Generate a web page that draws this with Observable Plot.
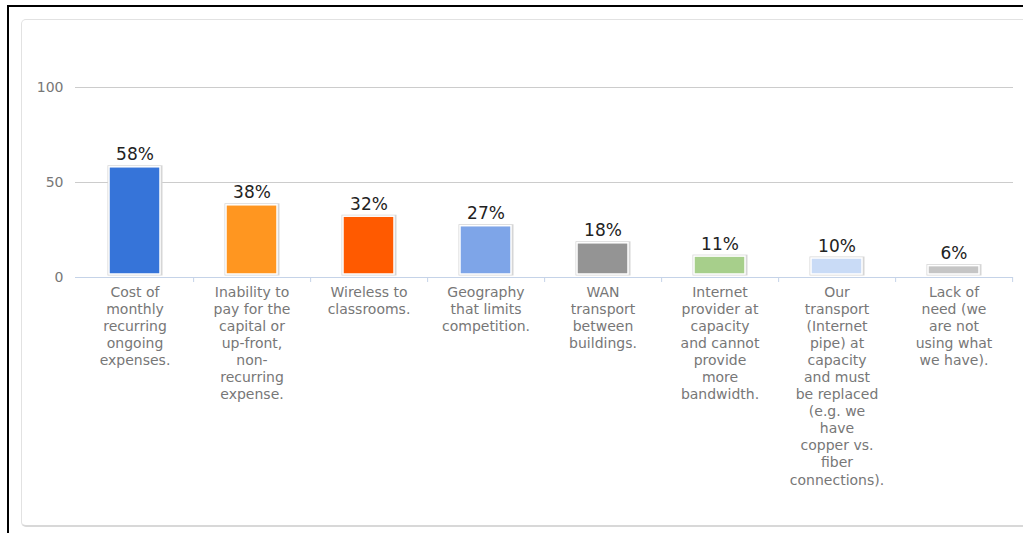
<!DOCTYPE html>
<html>
<head>
<meta charset="utf-8">
<script src="https://cdn.jsdelivr.net/npm/d3@7"></script>
<script src="https://cdn.jsdelivr.net/npm/@observablehq/plot@0.6"></script>
<style>
  html, body { margin: 0; padding: 0; background: #fff; }
  #wrap { position: relative; width: 1023px; height: 533px; overflow: hidden; font-family: "DejaVu Sans", sans-serif; }
  #outer { position: absolute; left: 7px; top: 5px; right: -10px; bottom: -10px; border-top: 2px solid #000; border-left: 2px solid #000; }
  #panel { position: absolute; left: 21px; top: 19px; right: -20px; height: 505px; border: 1px solid #e2e2e2; border-bottom: 2px solid #d8d8d8; border-radius: 5px; }
  #chart { position: absolute; left: 0; top: 0; }
</style>
</head>
<body>
<div id="wrap">
  <div id="outer"></div>
  <div id="panel"></div>
  <div id="chart"></div>
</div>
<script>
const categories = [
  "Cost of monthly recurring ongoing expenses.",
  "Inability to pay for the capital or up-front, non-recurring expense.",
  "Wireless to classrooms.",
  "Geography that limits competition.",
  "WAN transport between buildings.",
  "Internet provider at capacity and cannot provide more bandwidth.",
  "Our transport (Internet pipe) at capacity and must be replaced (e.g. we have copper vs. fiber connections).",
  "Lack of need (we are not using what we have)."
];
const tickLabels = [
  "Cost of\nmonthly\nrecurring\nongoing\nexpenses.",
  "Inability to\npay for the\ncapital or\nup-front,\nnon-\nrecurring\nexpense.",
  "Wireless to\nclassrooms.",
  "Geography\nthat limits\ncompetition.",
  "WAN\ntransport\nbetween\nbuildings.",
  "Internet\nprovider at\ncapacity\nand cannot\nprovide\nmore\nbandwidth.",
  "Our\ntransport\n(Internet\npipe) at\ncapacity\nand must\nbe replaced\n(e.g. we\nhave\ncopper vs.\nfiber\nconnections).",
  "Lack of\nneed (we\nare not\nusing what\nwe have)."
];
const values = [58, 38, 32, 27, 18, 11, 10, 6];
const colors = ["#3674d9", "#ff9620", "#ff5a00", "#7ea5e8", "#949494", "#a7cf8b", "#c9dbf6", "#c5c5c5"];
const yTicks = [0, 50, 100];

const data = categories.map((c, i) => ({category: c, value: values[i], color: colors[i], label: values[i] + "%"}));
const labelOf = new Map(categories.map((c, i) => [c, tickLabels[i]]));

const W = 1023, H = 533, mL = 75, mR = 10;
const step = (W - mL - mR) / categories.length;

const chart = Plot.plot({
  width: W,
  height: H,
  marginLeft: mL,
  marginRight: mR,
  marginTop: 87,
  marginBottom: 256,
  style: {fontFamily: "DejaVu Sans, sans-serif", background: "transparent", overflow: "visible"},
  x: {domain: categories, paddingInner: 0.56, paddingOuter: 0.26},
  y: {domain: [0, 100]},
  marks: [
    Plot.gridY(yTicks.filter(d => d > 0), {stroke: "#cccccc", strokeOpacity: 1}),
    Plot.ruleY([0], {stroke: "#c5d3e8", strokeWidth: 1.2}),
    Plot.axisY(yTicks, {tickSize: 0, tickPadding: 12, fontSize: 14, fill: "#777", label: null, style: {letterSpacing: "0.4px"}}),
    Plot.axisX({tickSize: 5, dx: step / 2, tickFormat: () => "", stroke: "#c5d3e8", label: null}),
    Plot.axisX({tickSize: 0, tickPadding: 7, tickFormat: d => labelOf.get(d), fontSize: 14, fill: "#777", lineHeight: 1.22, lineAnchor: "top", lineWidth: Infinity, label: null, style: {letterSpacing: "0.3px"}}),
    Plot.barY(data, {x: "category", y: "value", fill: "#d6d6d6", insetLeft: -1.5, insetRight: -2.5, insetTop: -1.5, insetBottom: 1.5}),
    Plot.barY(data, {x: "category", y: "value", fill: "color", stroke: "#ffffff", strokeWidth: 1.5, insetBottom: 3}),
    Plot.text(data, {x: "category", y: "value", text: "label", lineAnchor: "bottom", dy: -7, fontSize: 17, fill: "#222"})
  ]
});
document.getElementById("chart").appendChild(chart);
</script>
</body>
</html>
